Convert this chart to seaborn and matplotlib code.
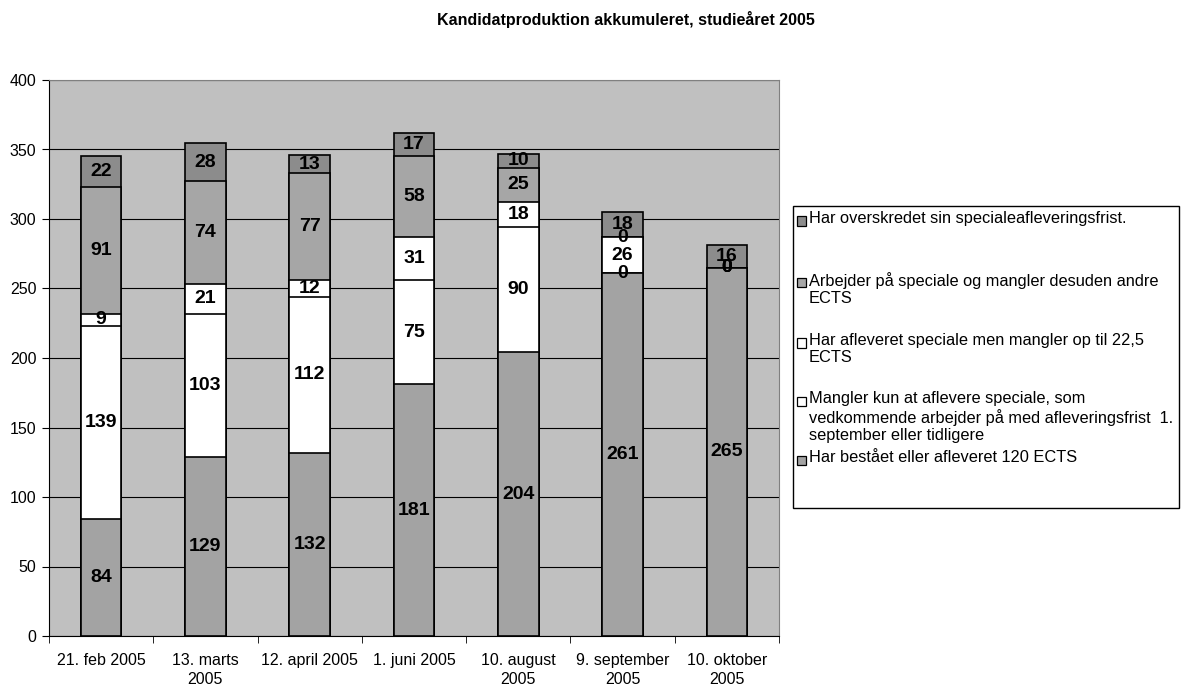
import numpy as np
import pandas as pd
import matplotlib
matplotlib.use('Agg')
import matplotlib.pyplot as plt
import seaborn as sns
from matplotlib.patches import Rectangle

# Data
dates = ['21. feb 2005', '13. marts\n2005', '12. april 2005', '1. juni 2005',
         '10. august\n2005', '9. september\n2005', '10. oktober\n2005']
bestaaet = [84, 129, 132, 181, 204, 261, 265]
mangler_kun = [139, 103, 112, 75, 90, 0, 0]
afleveret = [9, 21, 12, 31, 18, 26, 0]
arbejder = [91, 74, 77, 58, 25, 0, 0]
overskredet = [22, 28, 13, 17, 10, 18, 16]

series_names = [
    'Har bestået eller afleveret 120 ECTS',
    'Mangler kun at aflevere speciale, som\nvedkommende arbejder på med afleveringsfrist  1.\nseptember eller tidligere',
    'Har afleveret speciale men mangler op til 22,5\nECTS',
    'Arbejder på speciale og mangler desuden andre\nECTS',
    'Har overskredet sin specialeafleveringsfrist.',
]
series_vals = [bestaaet, mangler_kun, afleveret, arbejder, overskredet]
colors = ['#a3a3a3', '#ffffff', '#ffffff', '#a6a6a6', '#8c8c8c']

plt.rcParams['font.family'] = ['Liberation Sans', 'DejaVu Sans']

# cumulative tops for each layer
vals = np.array(series_vals)
cum = np.cumsum(vals, axis=0)
df = pd.DataFrame({'dato': np.tile(dates, len(series_names)),
                   'serie': np.repeat(range(len(series_names)), len(dates)),
                   'top': cum.flatten(),
                   'value': vals.flatten()})

W, H = 1181, 685
fig = plt.figure(figsize=(11.81, 6.85), dpi=100)
ax = fig.add_axes([49 / W, 1 - 636 / H, (779 - 49) / W, (636 - 80) / H])
ax.set_facecolor('#c0c0c0')

# draw from the top layer down so lower layers cover the higher ones
for i in reversed(range(len(series_names))):
    sub = df[df['serie'] == i]
    sns.barplot(data=sub, x='dato', y='top', order=dates, color=colors[i],
                edgecolor='black', linewidth=1.2, width=0.39, saturation=1,
                ax=ax, zorder=3)

# value labels at segment centres
for i in range(len(series_names)):
    for j in range(len(dates)):
        mid = cum[i, j] - vals[i, j] / 2
        ax.text(j, mid, str(vals[i, j]), ha='center', va='center',
                fontsize=14, fontweight='bold', zorder=5)

ax.set_ylim(0, 400)
ax.set_xlim(-0.5, len(dates) - 0.5)
ax.set_yticks(range(0, 401, 50))
ax.yaxis.grid(True, color='black', linewidth=0.8)
ax.set_axisbelow(True)
ax.set_xlabel('')
ax.set_ylabel('')
ax.set_xticks(range(len(dates)))
ax.set_xticklabels(dates, fontsize=11.5, linespacing=1.35)
ax.set_xticks(np.arange(-0.5, len(dates), 1), minor=True)
ax.tick_params(axis='x', which='major', length=0, pad=12)
ax.tick_params(axis='x', which='minor', length=5, direction='out', color='black')
ax.tick_params(axis='y', length=5, direction='out', labelsize=11.5, pad=4)
for s in ['top', 'right']:
    ax.spines[s].set_color('#808080')
for s in ['left', 'bottom']:
    ax.spines[s].set_color('black')

fig.text(626 / W, 1 - 20 / H, 'Kandidatproduktion akkumuleret, studieåret 2005',
         ha='center', va='center', fontsize=11.5, fontweight='bold')

# legend box drawn Excel style
fig.patches.append(Rectangle((793 / W, 1 - 508 / H), (1179 - 793) / W, (508 - 206) / H,
                             transform=fig.transFigure, facecolor='white',
                             edgecolor='black', linewidth=1))
legend_rows = [221, 282, 343, 401, 460]
order = [4, 3, 2, 1, 0]
for yc, i in zip(legend_rows, order):
    fig.patches.append(Rectangle((797 / W, 1 - (yc + 4.5) / H), 9 / W, 9 / H,
                                 transform=fig.transFigure, facecolor=colors[i],
                                 edgecolor='black', linewidth=0.9))
    fig.text(809 / W, 1 - (yc - 10) / H, series_names[i], ha='left', va='top',
             fontsize=11.8, linespacing=1.2)

fig.savefig('out.png', dpi=100)
